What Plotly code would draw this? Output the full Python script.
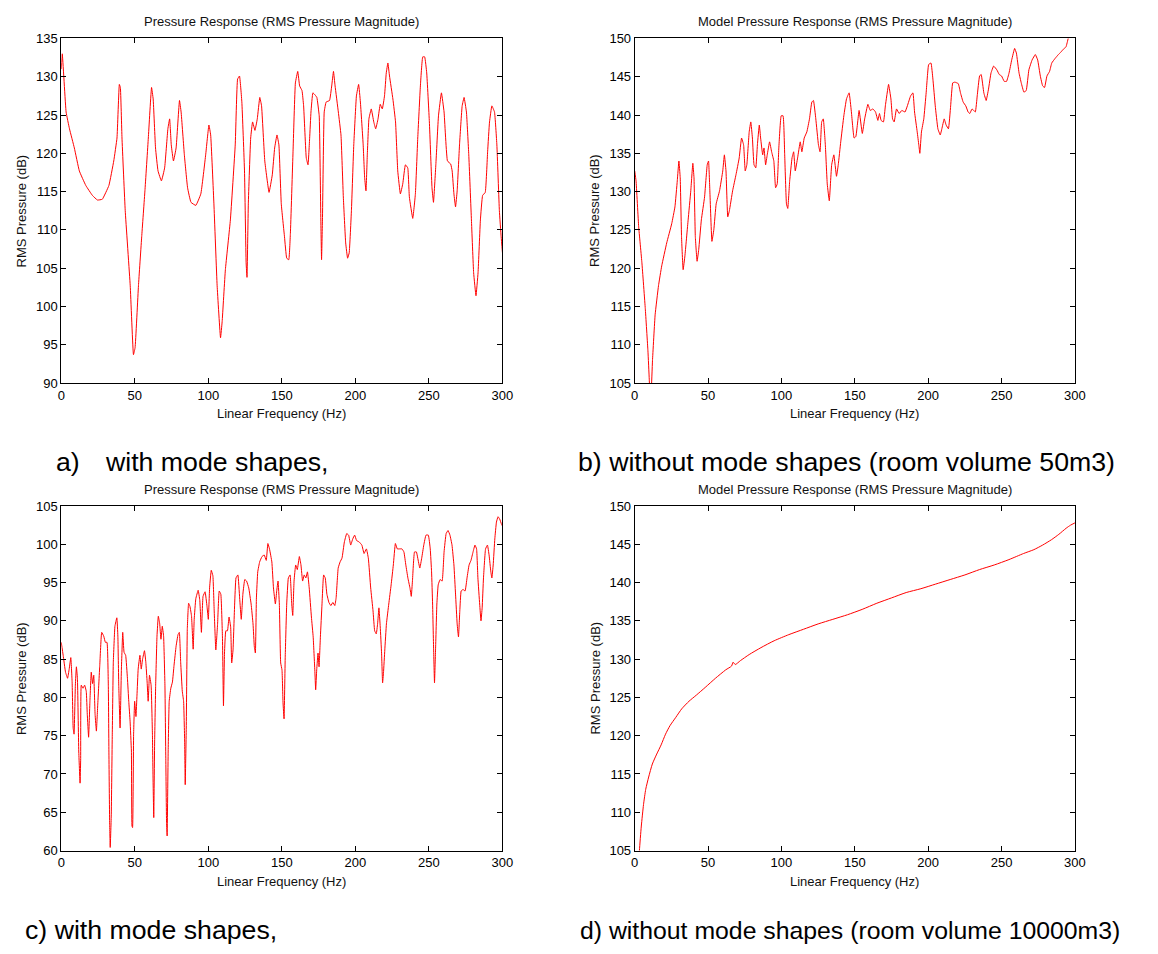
import plotly.graph_objects as go

# ---------------- data ----------------
freq_a = [0, 0.7, 3.3, 5.6, 8.9, 12.3, 16.7, 21.2, 24.6, 27.9, 32.4, 35.7, 37.9, 39.5, 40.2, 41.3, 43.5, 46.9,
          49.1, 50.2, 52.5, 54.7, 56.9, 59.2, 61.4, 62.5, 64.1, 65.8, 68.1, 70.3, 72.5, 73.7, 74.8, 76.3, 78.1,
          80.4, 81.5, 83.7, 85.9, 88.2, 91.5, 94.9, 98.2, 100.4, 101.6, 103.8, 106, 108.3, 109.4, 111.6, 115,
          118.3, 119.9, 121.2, 122.8, 124.6, 125.7, 126.3, 127.2, 128.8, 130.1, 131.7, 133.3, 135, 136.2, 138.4,
          141.3, 143.5, 145.1, 146.7, 148, 149.6, 151.8, 153.3, 154.7, 155.8, 157.6, 159.2, 160.8, 162.1, 163.7,
          164.8, 166.6, 167.8, 168.9, 169.8, 171.1, 172.7, 173.8, 175.4, 176.5, 177, 177.6, 178.8, 180.1, 182.4,
          183.9, 185.1, 186.2, 188.4, 190.2, 191.8, 193.4, 194.7, 195.8, 197.3, 198.9, 200.7, 202.2, 203.4, 205.3,
          206.3, 207.2, 208.1, 209.2, 210.8, 212.5, 213.8, 215.4, 216.9, 218.3, 219.8, 221, 222.1, 223.2, 225.5,
          227.3, 228.8, 230.6, 232.2, 234, 235.6, 236.7, 239, 240.8, 242.4, 244.2, 245.8, 247.1, 248.5, 250.3,
          252.1, 253.1, 254.7, 256.5, 258.5, 260.3, 262.6, 264.8, 265.8, 267, 268.1, 269.2, 270.8, 272.6, 273.9,
          275.5, 277.1, 278.9, 280.4, 282, 283.4, 285, 286.5, 288.3, 289.9, 291.2, 292.8, 294.6, 296.2, 297.9,
          299.1, 300]
spl_a = [131, 133, 125.4, 123.2, 120.7, 117.7, 115.8, 114.5, 113.9, 114.0, 115.8, 119, 122, 129, 128.6, 122, 112.5,
         102.7, 93.7, 94.6, 102.7, 109.1, 115.1, 122, 128.6, 127.1, 120.7, 117.7, 116.4, 118.1, 123.2, 124.5, 121.1,
         119, 120.7, 126.9, 125.4, 119.8, 115.5, 113.6, 113.2, 114.7, 119.8, 123.7, 122.4, 113.4, 102.7, 95.9, 98,
         104.8, 111.3, 121.1, 129.7, 130.1, 126.7, 117.7, 105.7, 103.8, 113.4, 122, 124.1, 123, 124.5, 127.3, 126.2,
         119, 114.9, 117.2, 120.7, 122.4, 121.1, 113.4, 109.1, 106.3, 106.1, 109.5, 120.2, 129.2, 130.7, 128.8,
         128.2, 126.2, 119.4, 118.5, 122, 125.4, 127.9, 127.6, 127.3, 124.9, 111.3, 106.1, 111.3, 125.4, 126.7,
         126.9, 128.8, 130.7, 128.8, 125.4, 122.4, 114.3, 108.3, 106.3, 107, 112.5, 121.1, 127.5, 129, 126.7, 121.1,
         116.8, 115.1, 119.8, 124.5, 125.8, 124.1, 123.2, 124.5, 126.4, 125.8, 127.5, 130.5, 131.8, 130.1, 127.1,
         124.1, 117.7, 114.7, 116, 118.5, 118.1, 114.3, 111.5, 114.7, 122, 128.8, 132.6, 132.6, 130.5, 124.1, 115.5,
         113.6, 118.5, 124.9, 127.9, 125.4, 119, 118.6, 117.7, 114.7, 113, 115.1, 121.1, 126.2, 127.3, 125.4, 119.8,
         111.3, 104.4, 101.4, 104.4, 111.3, 114.5, 114.9, 120.2, 124.1, 126.2, 125.4, 121.1, 112.5, 109.1, 107]

freq_b = [0, 0.9, 2.7, 4.9, 7.2, 9, 9.9, 10.6, 11.3, 12.1, 13.9, 16.2, 18.4, 21.8, 25.2, 27.4, 29, 30.1, 31, 31.9,
          33, 34.2, 36.4, 38.2, 39.6, 40.4, 41.3, 42.5, 43.6, 45.4, 47.6, 49.4, 50.3, 51.2, 52.6, 53.9, 55.5, 57.8,
          60, 61.1, 62.2, 63.4, 64.5, 66.7, 69, 71.2, 72.8, 74.2, 75.3, 76.4, 78, 79.1, 80.2, 81.3, 82.5, 83.6, 84.9,
          85.8, 87.2, 88.1, 89.2, 90.3, 91.9, 93.3, 94.8, 96, 97.1, 98.2, 99.8, 101.1, 102.2, 103.4, 104.3, 105.6,
          107.2, 108.3, 109.4, 111, 112.8, 113.9, 115.5, 117.3, 119.1, 120.7, 121.8, 123.4, 125.2, 126.3, 127.4,
          128.5, 129.9, 131.2, 132.6, 134.2, 135.7, 137.5, 138.7, 140.4, 142.5, 144.3, 146.1, 147.6, 149.5, 150.7,
          152.9, 155.1, 156.7, 158.9, 160.5, 162.3, 164.1, 165.7, 166.8, 167.9, 169.5, 170.8, 173, 174.6, 175.7,
          176.8, 178.4, 180.2, 182, 184.2, 185.8, 188, 189.6, 190.7, 192.5, 193.6, 194.3, 195.4, 197, 198.6, 200.3,
          201.9, 203.2, 204.8, 206.6, 208.2, 209.3, 210.9, 212.2, 213.8, 215.3, 216.7, 218.2, 220.5, 222, 223.8,
          225.6, 227.2, 228.3, 229.9, 232.1, 233.4, 235, 236.1, 237.9, 239.5, 241.1, 242.8, 244.6, 246.8, 248.4,
          250, 251.8, 253.4, 255.1, 256.9, 258.9, 260.1, 261.9, 263.4, 265.2, 266.8, 268.6, 270.8, 273, 274.6,
          276.4, 278, 279.3, 280.9, 282.7, 284.2, 286.5, 288.7, 290.3, 292.1, 293.9, 295.4, 296.5, 298.5, 300]
spl_b = [132.7, 131.4, 125.4, 120.7, 114.7, 109.2, 105.5, 102.5, 104, 107.9, 113.9, 117.7, 120.3, 123.3, 125.8, 128,
         131.4, 134, 131.8, 124.1, 119.8, 121.6, 126.3, 130.1, 133.7, 131.8, 124.1, 120.9, 122.4, 126.3, 129.3, 133.5,
         134, 130.1, 123.5, 125, 128.4, 130.1, 132.7, 134.8, 132.7, 126.7, 127.5, 130.1, 132.2, 134.4, 137, 136.1,
         132.7, 133.5, 137.8, 139.1, 137, 133.5, 133.1, 136.1, 138.7, 137, 134.8, 135.7, 133.5, 134.8, 136.5, 135.2,
         134, 130.5, 131, 135.7, 139.9, 139.9, 134.8, 128.4, 127.8, 131.4, 134.4, 135.2, 132.7, 134.4, 136.5, 135.2,
         137, 137.8, 139.5, 141.7, 141.9, 139.5, 136.1, 135.2, 139.1, 139.5, 136.1, 131, 128.8, 133.5, 134.8, 132,
         133.5, 136.5, 139.9, 142.1, 142.9, 140.5, 137, 137.2, 140.6, 137.6, 139.5, 141.4, 140.6, 140.8, 140.4,
         139.3, 140.2, 139.3, 139.1, 141.2, 144, 142.1, 139.5, 139.1, 140.8, 140.2, 140.6, 140.4, 141.2, 142.5,
         142.9, 140.4, 137.8, 136.1, 135, 137.8, 139.5, 142.9, 146.6, 146.8, 144.7, 141.2, 138.2, 137.4, 138.2,
         139.5, 138.7, 138.2, 141.2, 144.2, 144.3, 144.1, 142.9, 141.7, 141.2, 140.4, 140.2, 140.8, 140.4, 142.5,
         145.1, 145.3, 142.9, 141.9, 143.4, 145.5, 146.4, 145.9, 145.3, 145.1, 144.4, 144.4, 145.5, 147.2, 148.7,
         148.1, 145.5, 144.2, 143, 143.2, 145.9, 147.2, 147.9, 147.2, 145.1, 143.8, 143.6, 145.1, 145.7, 146.8,
         147.4, 147.9, 148.2, 148.6, 148.9, 150, 150.6, 151.5, 152.3]

freq_c = [0, 1.3, 2.9, 4.3, 5.4, 6.5, 7.4, 8.1, 8.7, 9.6, 10.3, 11, 11.9, 12.8, 13.2, 13.6, 14.8, 15.9, 17, 17.7,
          18.6, 19.5, 20.4, 21.3, 22.1, 23, 23.9, 24.8, 26.2, 27.5, 28.9, 30, 31.1, 32, 32.4, 32.9, 33.3, 34, 34.7,
          35.4, 36.5, 37.8, 38.5, 39.1, 40, 40.9, 41.8, 42.7, 43.8, 45, 45.9, 46.8, 47.7, 48.1, 48.5, 49.2, 49.9,
          50.8, 51.5, 52.3, 53.5, 54.4, 55.3, 56.6, 57.5, 58.4, 59.1, 60, 61.1, 62, 62.4, 62.9, 63.5, 64.2, 65.1,
          66, 66.9, 67.8, 68.7, 69.6, 70.5, 71.1, 71.6, 72, 72.7, 73.4, 74.5, 75.6, 76.7, 78.1, 79.4, 80.3, 81.2,
          82.3, 83.2, 83.9, 84.3, 85, 85.7, 86.6, 87.5, 88.6, 89.7, 90.4, 91.5, 93.1, 94.2, 95.3, 96.4, 97.8, 99.1,
          100, 100.9, 102, 103.1, 104, 105.1, 106.3, 107.4, 108.5, 109.6, 110.3, 111, 111.9, 113, 114.1, 115.2,
          115.9, 116.8, 117.9, 118.8, 120.1, 121.3, 122.4, 123.5, 124.8, 126, 127.5, 129.1, 130.4, 131.3, 132,
          132.7, 133.6, 134.9, 136.5, 138, 139.4, 140.5, 141.6, 143.2, 144.3, 145.6, 146.5, 147.4, 148.3, 149.2,
          150.1, 150.8, 151.5, 152.3, 153.3, 154.4, 155.6, 156.7, 157.4, 158.3, 159.4, 160.5, 161.9, 163, 164.1,
          165.2, 166.3, 167.4, 168.6, 170.1, 171.3, 172.4, 173, 173.7, 174.6, 175.3, 176.2, 177.3, 178.4, 179.5,
          180.6, 182, 183.3, 184.7, 186, 186.9, 188.3, 189.6, 190.9, 192.5, 194.1, 195.4, 196.8, 198.2, 199.5,
          200.8, 202.6, 204.4, 205.9, 207.5, 208.8, 210.4, 212, 213.1, 214.2, 215.1, 216, 216.9, 217.8, 218.5,
          219.1, 220, 221.1, 222.7, 224.3, 225.8, 227.2, 228.5, 229.9, 231.7, 233, 234.3, 235.7, 237.1, 238,
          238.8, 240.2, 241.5, 242.4, 243.8, 245.1, 246.5, 248, 249.6, 250.9, 251.8, 252.5, 253.2, 253.8, 254.5,
          255.4, 256.3, 257.6, 259, 260.3, 261.7, 263, 264.3, 265.7, 267, 268.1, 269.2, 270.1, 271, 271.9, 273.2,
          274.6, 275.9, 277.3, 278.6, 280, 281.3, 282.4, 283.3, 284.5, 285.4, 286.2, 287.1, 288.5, 289.8, 290.9,
          292.1, 292.8, 293.7, 294.8, 295.9, 297, 298.1, 299.4, 300]
spl_c = [87.2, 85.5, 83.3, 82.5, 83.7, 85.2, 82, 76, 75.2, 81.6, 84, 82.5, 73, 68.8, 71.8, 81.6, 81.2, 81.6, 80.8,
         77.8, 74.8, 79.5, 83.3, 81.8, 82.9, 77.8, 75.6, 79, 84.2, 88.5, 88, 87.2, 87.2, 81.6, 73, 63.7, 60.4, 64.5,
         75.2, 84.6, 89.3, 90.4, 88, 81.6, 76, 83.7, 88.5, 85.9, 85.5, 82.5, 79.5, 76.9, 73, 63.2, 63, 75.2, 79.5,
         77.5, 80.3, 83.7, 85.5, 83.7, 85, 86.1, 84.6, 82, 79.5, 82.9, 81.6, 75.2, 69.6, 64.3, 74.3, 81.6, 88, 90.6,
         89.7, 87.6, 89.3, 88, 81.6, 71.8, 63.7, 61.9, 73, 79.5, 81.2, 82, 84.2, 86.7, 88.2, 88.5, 84.6, 80.8, 79.5,
         74.3, 68.6, 76, 88.9, 92.3, 91.9, 90.6, 86.3, 90.2, 92.9, 94, 92.7, 88.5, 93.2, 93.8, 91.9, 90.2, 94.4,
         96.6, 95.9, 91.3, 86.2, 89.6, 93.9, 93.5, 87.9, 78.9, 85.8, 88.7, 88.7, 90.5, 89.2, 84.5, 86.2, 92.2, 95.6,
         96, 93, 90.2, 93.5, 95.4, 95.2, 94.3, 92.2, 89.6, 86.6, 85.8, 93, 96.4, 97.7, 98.4, 98.6, 97.9, 100.1,
         99.4, 97.7, 94.3, 92.2, 93.9, 95.2, 92.2, 84.5, 83.6, 79.3, 77.2, 85.4, 92.2, 95.6, 96, 92.2, 90.7, 95.2,
         97.3, 96.7, 98.4, 97.3, 95.2, 96, 95.6, 96.4, 94.3, 90.5, 87.9, 83.6, 81, 83.6, 85.8, 84, 87.9, 92.2, 96,
         95.6, 93.5, 92.4, 92, 92.4, 92, 93, 96.9, 97.7, 98.2, 100.3, 101.4, 101.2, 99.9, 100.7, 101.2, 100.5,
         100.3, 99.9, 98.8, 99.4, 98.2, 94.3, 91.3, 88.7, 88.3, 89.6, 91.7, 89.2, 85.8, 81.9, 83.2, 86.2, 89.6,
         92.2, 94.7, 97.3, 100.1, 99.4, 99.4, 99.4, 99, 97.3, 95.6, 94.3, 93.2, 95.2, 99, 99, 98.2, 96.9, 98.2,
         99.9, 101.2, 101.2, 99.4, 96.4, 92.2, 86.2, 81.9, 86.2, 92.2, 94.7, 95.4, 95.2, 99, 101.4, 101.8, 101.2,
         99.9, 97.3, 93.5, 89.6, 87.9, 91.3, 93.9, 94.1, 93.9, 95.6, 97.3, 97.9, 99, 99.9, 99.4, 95.6, 92.2, 90,
         91.7, 95.6, 99.4, 99.9, 98.6, 96.4, 95.6, 97.3, 100.7, 102.9, 103.6, 103.3, 102.6, 102.4]

freq_d = [2.5, 3.2, 4.5, 6, 7.5, 9.5, 12, 15, 18, 21, 24, 28, 32, 37, 42, 48, 55, 62, 66, 67, 68.5, 72, 78, 86, 95,
          105, 115, 125, 135, 145, 155, 165, 175, 185, 195, 205, 215, 225, 235, 245, 255, 265, 272, 278, 284, 289,
          294, 297, 300]
spl_d = [102.5, 105, 108.2, 111, 113, 114.6, 116.3, 117.6, 118.8, 120.2, 121.3, 122.4, 123.5, 124.5, 125.3, 126.3,
         127.5, 128.6, 129.1, 129.6, 129.3, 129.8, 130.6, 131.5, 132.4, 133.2, 133.9, 134.6, 135.2, 135.8, 136.5,
         137.3, 138, 138.7, 139.2, 139.8, 140.4, 141, 141.7, 142.3, 143, 143.8, 144.3, 144.9, 145.6, 146.3, 147.1,
         147.5, 147.8]

x_ticks = [0, 50, 100, 150, 200, 250, 300]
titles = ["Pressure Response (RMS Pressure Magnitude)", "Model Pressure Response (RMS Pressure Magnitude)",
          "Pressure Response (RMS Pressure Magnitude)", "Model Pressure Response (RMS Pressure Magnitude)"]
y_ranges = [[90, 135], [105, 150], [60, 105], [105, 150]]
x_label = "Linear Frequency (Hz)"
y_label = "RMS Pressure (dB)"

# ---------------- layout helpers ----------------
W, H = 1158, 954
def px(x):
    return x / W
def py(y):
    return 1 - y / H

# pixel boxes of the four plot areas: (left, right, top, bottom)
boxes = [(58, 505, 32, 382), (639, 1085, 32, 382), (58, 505, 507, 857), (639, 1085, 507, 857)]

fig = go.Figure()
series = [(freq_a, spl_a), (freq_b, spl_b), (freq_c, spl_c), (freq_d, spl_d)]
font_fam = "Liberation Sans, Arial, Helvetica, sans-serif"

annotations = []
for i, ((fx, fy), box) in enumerate(zip(series, boxes)):
    n = "" if i == 0 else str(i + 1)
    fig.add_trace(go.Scatter(x=fx, y=fy, mode="lines",
                             line=dict(color="#ff0000", width=1, shape="spline", smoothing=0.6 if i == 3 else 0.3),
                             xaxis="x" + n, yaxis="y" + n, showlegend=False, hoverinfo="skip"))
    l, r, t, b = box
    axis_common = dict(showline=True, linecolor="black", linewidth=1, mirror="ticks", ticks="inside",
                       ticklen=5, tickcolor="black", showgrid=False, zeroline=False,
                       tickfont=dict(family=font_fam, size=13, color="black"))
    fig.layout["xaxis" + n] = dict(domain=[px(l), px(r)], range=[0, 300], tickvals=x_ticks,
                                   anchor="y" + n, **axis_common)
    fig.layout["yaxis" + n] = dict(domain=[py(b), py(t)], range=y_ranges[i], dtick=5, tick0=0,
                                   anchor="x" + n, **axis_common)
    cx = (l + r) / 2
    annotations.append(dict(text=titles[i], x=px(cx), y=py(t - 17), xanchor="center", yanchor="middle",
                            font=dict(family=font_fam, size=13, color="#111")))
    annotations.append(dict(text=x_label, x=px(cx), y=py(b + 31), xanchor="center", yanchor="middle",
                            font=dict(family=font_fam, size=13, color="#111")))
    annotations.append(dict(text=y_label, x=px(l - 40), y=py((t + b) / 2), xanchor="center",
                            yanchor="middle", textangle=-90,
                            font=dict(family=font_fam, size=13, color="#111")))

cap_font = dict(family=font_fam, size=26.7, color="black")
cap_font_d = dict(family=font_fam, size=24.8, color="black")
captions = [("a)", 51, 462, cap_font), ("with mode shapes,", 100, 462, cap_font),
            ("b) without mode shapes (room volume 50m3)", 579, 462, cap_font),
            ("c) with mode shapes,", 19, 938, cap_font),
            ("d) without mode shapes (room volume 10000m3)", 582, 938, cap_font_d)]
for txt, x, y, f in captions:
    annotations.append(dict(text=txt, x=px(x), y=py(y), xanchor="left", yanchor="middle", font=f))

for a in annotations:
    a.update(xref="paper", yref="paper", showarrow=False)

fig.update_layout(width=W, height=H, margin=dict(l=0, r=0, t=0, b=0), paper_bgcolor="white",
                  plot_bgcolor="white", annotations=annotations)

fig.write_html("out.html")
